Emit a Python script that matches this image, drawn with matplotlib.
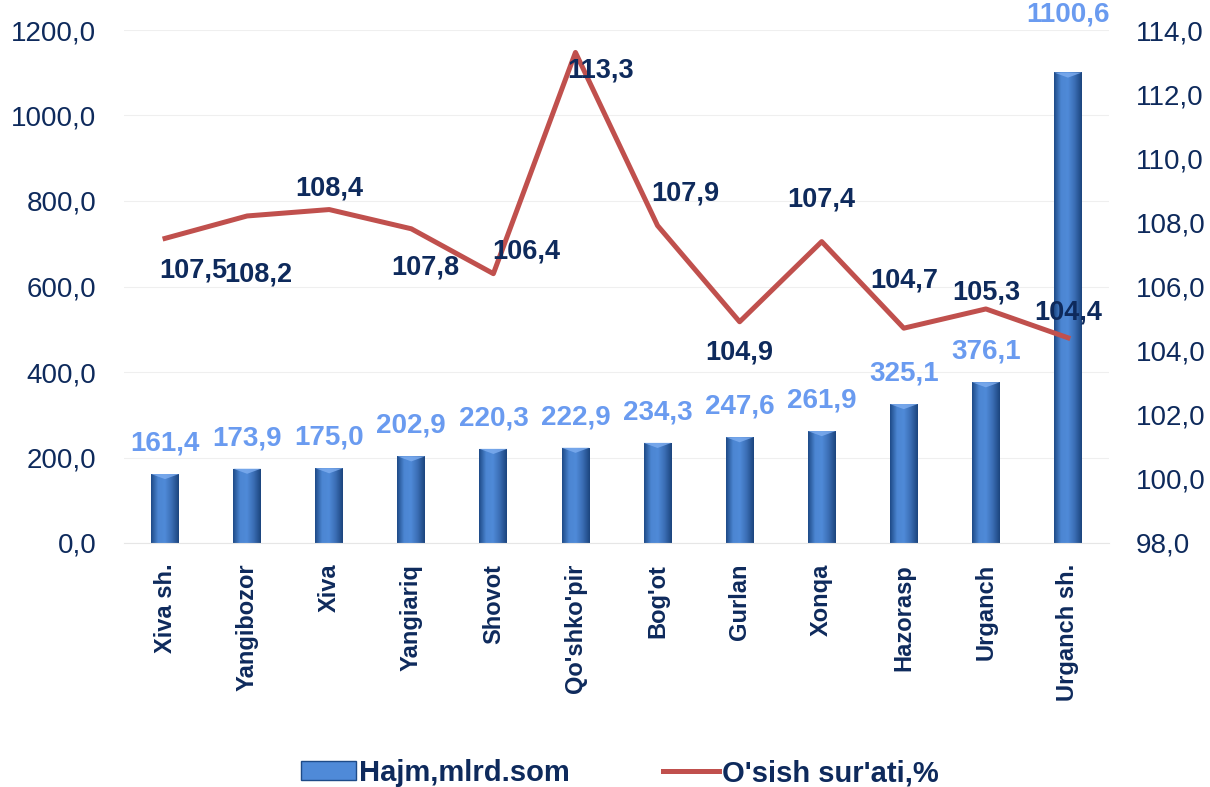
import matplotlib
matplotlib.use("Agg")
import matplotlib.pyplot as plt
import numpy as np
from matplotlib.colors import LinearSegmentedColormap
from matplotlib.patches import Patch
from matplotlib.lines import Line2D

plt.rcParams['font.family'] = ['Liberation Sans', 'DejaVu Sans']

categories = ["Xiva sh.", "Yangibozor", "Xiva", "Yangiariq", "Shovot", "Qo'shko'pir",
              "Bog'ot", "Gurlan", "Xonqa", "Hazorasp", "Urganch", "Urganch sh."]
volume = [161.4, 173.9, 175.0, 202.9, 220.3, 222.9, 234.3, 247.6, 261.9, 325.1, 376.1, 1100.6]
growth = [107.5, 108.2, 108.4, 107.8, 106.4, 113.3, 107.9, 104.9, 107.4, 104.7, 105.3, 104.4]
left_ticks = [0, 200, 400, 600, 800, 1000, 1200]
right_ticks = [98, 100, 102, 104, 106, 108, 110, 112, 114]

# label offsets in points
growth_offsets = [(20, -23), (8, -42), (0, 15), (10, -28), (24, 16), (18, -13),
                  (20, 23), (0, -22), (0, 30), (0, 34), (0, 12), (0, 18)]
volume_label_dy = [22, 22, 22, 22, 22, 22, 22, 22, 22, 22, 22, 42]

navy = "#0E2A5C"
lightblue = "#6A9BF0"
red = "#C0504D"

fig = plt.figure(figsize=(12.10, 7.87), dpi=100)
ax = fig.add_axes([124/1210, 1-543/787, (1109-124)/1210, (543-30)/787])
ax2 = ax.twinx()
ax.set_zorder(1)
ax2.set_zorder(2)
ax.patch.set_visible(False)

x = np.arange(len(categories))
bars = ax.bar(x, volume, width=0.34, color="#3B6FB6", edgecolor="none", zorder=2)

cmap = LinearSegmentedColormap.from_list("b", ["#1E4B88", "#4C86D2", "#4F8AD8", "#3A6DB4", "#1C457E"])
grad = np.linspace(0, 1, 64).reshape(1, -1)
for i, b in enumerate(bars):
    x0, y0 = b.get_x(), b.get_y()
    w, h = b.get_width(), b.get_height()
    im = ax.imshow(grad, cmap=cmap, aspect='auto', extent=[x0, x0 + w, y0, y0 + h], zorder=2.1)
    im.set_clip_path(b)
    bev = 12
    ax.fill([x0, x0 + w, x0 + w / 2], [y0 + h, y0 + h, y0 + h - bev], color="#7FAEF0", alpha=0.8, zorder=2.2, lw=0)
    ax.annotate(f"{volume[i]:.1f}".replace('.', ','), (x0 + w / 2, y0 + h),
                xytext=(0, volume_label_dy[i]), textcoords='offset points', ha='center', va='center',
                fontsize=20, fontweight='bold', color=lightblue, zorder=5)

ax.set_xlim(-0.5, len(categories) - 0.5)
ax.set_ylim(0, 1200)
ax.set_yticks(left_ticks)
ax.set_yticklabels([f"{v:.1f}".replace('.', ',') for v in left_ticks], fontsize=20, color=navy)
ax.set_xticks(x)
ax.set_xticklabels(categories, rotation=90, fontsize=17, fontweight='bold', color=navy)
ax.grid(axis='y', color="#EFEFEF", lw=0.8, zorder=0)
ax.set_axisbelow(True)
ax.tick_params(axis='y', length=0, pad=20)
ax.tick_params(axis='x', length=0, pad=15)
for s in ax.spines.values():
    s.set_visible(False)
ax.spines['bottom'].set_visible(True)
ax.spines['bottom'].set_color("#E6E6E6")

ax2.plot(x, growth, color=red, lw=3.6, zorder=3)
ax2.set_ylim(98, 114)
ax2.set_yticks(right_ticks)
ax2.set_yticklabels([f"{v:.1f}".replace('.', ',') for v in right_ticks], fontsize=20, color=navy)
ax2.tick_params(axis='y', length=0, pad=19)
for s in ax2.spines.values():
    s.set_visible(False)
for i, (g, off) in enumerate(zip(growth, growth_offsets)):
    ax2.annotate(f"{g:.1f}".replace('.', ','), (x[i], g), xytext=off, textcoords='offset points',
                 ha='center', va='center', fontsize=19.5, fontweight='bold', color=navy, zorder=6)

handles = [Patch(facecolor="#4F8AD8", edgecolor="#1E4B88"), Line2D([0], [0], color=red, lw=3.6)]
fig.legend(handles, ["Hajm,mlrd.som", "O'sish sur'ati,%"], loc='center', bbox_to_anchor=(0.512, 1 - 773/787),
           ncol=2, frameon=False, prop={'size': 21, 'weight': 'bold'}, labelcolor=navy,
           columnspacing=3.2, handlelength=1.9, handletextpad=0.1, handleheight=0.6)

fig.savefig("out.png", dpi=100)
